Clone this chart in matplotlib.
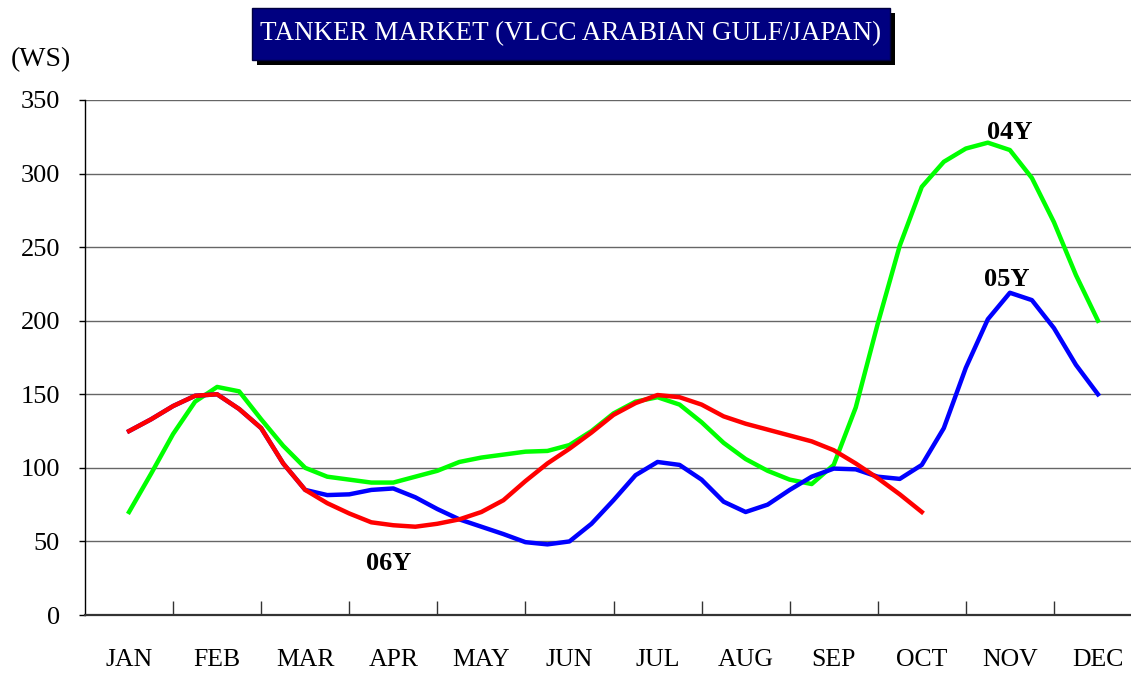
import numpy as np
import matplotlib.pyplot as plt
from matplotlib.patches import Rectangle

# ==================================
# DATA (WS, read roughly weekly: 4 points per month from JAN)
# ==================================
MONTHS = ["JAN", "FEB", "MAR", "APR", "MAY", "JUN",
          "JUL", "AUG", "SEP", "OCT", "NOV", "DEC"]

WS_04Y = [70, 96, 123, 145, 155, 152, 133, 115, 100, 94, 92, 90,
          90, 94, 98, 104, 107, 109, 111, 111.5, 115.5, 125, 137, 145,
          148, 143, 131, 117, 106, 98, 92, 89, 102, 141, 198, 251,
          291, 308, 317, 321, 316, 297, 267, 231, 200]

WS_05Y = [125, 133, 142, 149, 150, 140, 127, 103, 85, 81.5, 82, 85,
          86, 80, 72, 65, 60, 55, 49.5, 48, 50, 62, 78, 95,
          104, 102, 92, 77, 70, 75, 85, 94, 99.5, 99, 94, 92.5,
          102, 127, 168, 201, 219, 214, 195, 170, 150]

WS_06Y = [125, 133, 142, 149, 150, 140, 127, 103, 85, 76, 69, 63,
          61, 60, 62, 65, 70, 78, 91, 103, 113, 124, 136, 144,
          149.5, 148, 143, 135, 130, 126, 122, 118, 112, 103, 93, 82,
          70]

YTICKS = [0, 50, 100, 150, 200, 250, 300, 350]

SERIF = ["Liberation Serif", "DejaVu Serif"]

# ==================================
# PLOT
# ==================================
W, H = 1131, 673
fig = plt.figure(figsize=(W / 100, H / 100), dpi=100)
fig.patch.set_facecolor("white")

# plot area: x 85..1142 px (runs past the right edge), y 100..615 px
ax = fig.add_axes([85 / W, (H - 615) / H, (1142 - 85) / W, 515 / H])

x4 = np.arange(len(WS_04Y)) / 4
x5 = np.arange(len(WS_05Y)) / 4
x6 = np.arange(len(WS_06Y)) / 4

lw = 3.2
ax.plot(x4, WS_04Y, color="#00ff00", lw=lw, solid_joinstyle="round", zorder=3)
ax.plot(x5, WS_05Y, color="#0000ff", lw=lw, solid_joinstyle="round", zorder=4)
ax.plot(x6, WS_06Y, color="#ff0000", lw=lw, solid_joinstyle="round", zorder=5)

ax.set_xlim(-0.5, 11.5)
ax.set_ylim(0, 350)

for v in YTICKS[1:]:
    ax.axhline(v, color="#666666", lw=1.0, zorder=1)

ax.spines["right"].set_visible(False)
ax.spines["top"].set_visible(False)
ax.spines["left"].set_color("black")
ax.spines["left"].set_linewidth(1.0)
ax.spines["bottom"].set_color("#333333")
ax.spines["bottom"].set_linewidth(1.6)

ax.set_yticks(YTICKS)
ax.set_yticklabels([str(v) for v in YTICKS], fontfamily=SERIF, fontsize=19)
ax.tick_params(axis="y", direction="out", length=4, width=1, pad=14)

# month labels centred in each slot, tick marks on slot boundaries
ax.set_xticks(np.arange(0.5, 11.5, 1.0))
ax.set_xticklabels([])
ax.tick_params(axis="x", direction="in", length=10, width=1, color="#333333")
for i, m in enumerate(MONTHS):
    ax.text(i, -0.088, m, transform=ax.get_xaxis_transform(),
            ha="center", va="center", fontfamily=SERIF, fontsize=18.5)

# series labels
ax.text(10.0, 328, "04Y", ha="center", va="center", fontfamily=SERIF,
        fontsize=19, fontweight="bold")
ax.text(9.97, 228, "05Y", ha="center", va="center", fontfamily=SERIF,
        fontsize=19, fontweight="bold")
ax.text(2.95, 35, "06Y", ha="center", va="center", fontfamily=SERIF,
        fontsize=19, fontweight="bold")

# y unit
fig.text(41 / W, 1 - 60 / H, "(WS)", ha="center", va="center",
         fontfamily=SERIF, fontsize=20)

# title box with drop shadow
bx, by, bw, bh = 252, 8, 638, 52
fig.patches.append(Rectangle(((bx + 5) / W, 1 - (by + bh + 5) / H), bw / W, bh / H,
                             transform=fig.transFigure, facecolor="black",
                             edgecolor="none", zorder=1))
fig.patches.append(Rectangle((bx / W, 1 - (by + bh) / H), bw / W, bh / H,
                             transform=fig.transFigure, facecolor="#000080",
                             edgecolor="#000040", lw=1, zorder=2))
fig.text((bx + bw / 2) / W, 1 - (by + bh / 2) / H,
         "TANKER MARKET (VLCC ARABIAN GULF/JAPAN)", ha="center", va="center",
         color="white", fontfamily=SERIF, fontsize=19.5, zorder=3)

fig.savefig("out.png", dpi=100, facecolor="white")
